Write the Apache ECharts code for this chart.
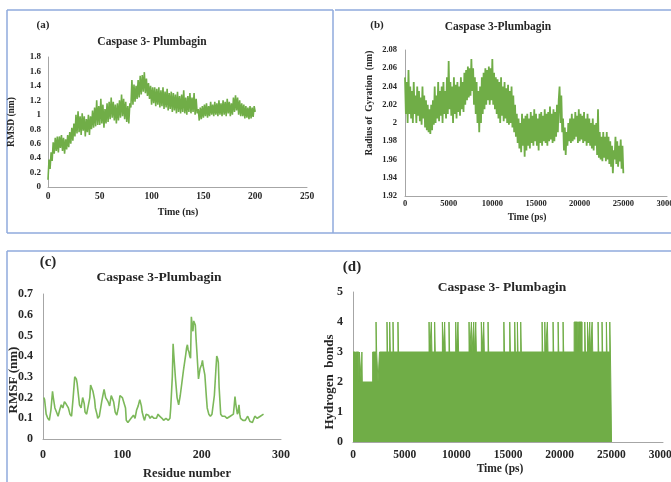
<!DOCTYPE html>
<html><head><meta charset="utf-8">
<script src="https://cdn.jsdelivr.net/npm/echarts@6/dist/echarts.min.js"></script>
<style>html,body{margin:0;padding:0;background:#fff}#c{width:671px;height:482px}</style>
</head><body><div id="c"></div>
<script>
// (a) RMSD, one value per ns
const rmsdStepNs = 1;
const rmsdValues = [
0.10,0.38,0.25,0.48,0.36,0.62,0.46,0.68,0.50,0.70,
0.48,0.70,0.54,0.72,0.50,0.68,0.46,0.66,0.52,0.72,
0.55,0.76,0.60,0.82,0.64,0.88,0.70,1.00,0.74,1.05,
0.76,0.98,0.72,1.02,0.78,0.98,0.70,0.94,0.76,1.00,
0.72,0.98,0.80,1.06,0.82,1.10,0.84,1.20,0.86,1.12,
0.86,1.22,0.88,1.14,0.82,1.08,0.88,1.16,0.90,1.18,
0.94,1.24,0.96,1.18,0.92,1.14,0.88,1.16,0.92,1.20,
0.96,1.28,0.98,1.22,0.94,1.18,0.90,1.12,0.88,1.16,
1.10,1.48,1.14,1.42,1.18,1.40,1.22,1.48,1.24,1.54,
1.28,1.55,1.32,1.59,1.30,1.50,1.26,1.44,1.22,1.40,
1.14,1.38,1.16,1.38,1.12,1.36,1.14,1.38,1.10,1.34,
1.12,1.38,1.08,1.32,1.10,1.36,1.06,1.30,1.08,1.32,
1.04,1.30,1.06,1.28,1.02,1.32,1.04,1.26,1.02,1.28,
1.04,1.34,1.02,1.24,1.00,1.26,1.04,1.30,1.02,1.24,
1.04,1.30,1.00,1.22,1.02,1.08,0.92,1.10,0.94,1.12,
0.96,1.14,0.98,1.16,0.96,1.12,0.98,1.18,1.00,1.14,
0.98,1.18,1.00,1.16,0.98,1.20,1.00,1.16,0.98,1.20,
1.00,1.18,0.98,1.22,1.02,1.18,0.98,1.16,1.00,1.24,
1.04,1.27,1.06,1.24,1.00,1.20,0.98,1.16,0.98,1.14,
0.95,1.12,0.96,1.10,0.94,1.12,0.95,1.10,0.97,1.12,
1.04];

// (b) Radius of gyration, one value per 100 ps
const rgStepPs = 100;
const rgValues = [
2.05,2.01,2.045,2.0,2.058,2.01,2.04,2.005,2.035,2.0,
2.045,2.01,2.03,2.0,2.04,2.008,2.035,2.002,2.028,1.998,
2.04,2.005,2.03,1.995,2.025,1.992,2.02,1.99,2.015,1.988,
2.02,1.992,2.025,1.998,2.04,2.0,2.03,2.005,2.045,2.002,
2.035,2.008,2.04,2.0,2.045,2.01,2.035,2.005,2.05,2.01,
2.068,2.015,2.045,2.008,2.04,2.0,2.05,2.01,2.042,2.005,
2.045,2.012,2.04,2.008,2.05,2.015,2.045,2.012,2.055,2.02,
2.058,2.025,2.062,2.028,2.06,2.03,2.07,2.035,2.06,2.02,
2.05,2.01,2.045,2.0,2.035,1.99,2.04,2.0,2.05,2.01,
2.055,2.015,2.06,2.02,2.058,2.025,2.062,2.02,2.06,2.025,
2.07,2.02,2.055,2.015,2.05,2.01,2.048,2.005,2.045,2.0,
2.05,2.008,2.04,2.002,2.045,2.005,2.038,2.0,2.042,1.998,
2.035,2.0,2.04,1.995,2.03,1.99,2.02,1.985,2.01,1.978,
2.005,1.972,2.0,1.968,2.01,1.975,2.005,1.963,2.008,1.97,
2.01,1.975,2.005,1.972,2.012,1.978,2.008,1.975,2.015,1.98,
2.01,1.975,2.005,1.97,2.01,1.978,2.012,1.975,2.008,1.98,
2.015,1.978,2.01,1.975,2.012,1.98,2.018,1.982,2.01,1.978,
2.015,1.98,2.012,1.985,2.02,1.99,2.025,2.04,2.0,2.03,
1.99,2.005,1.97,1.995,1.965,1.99,1.975,2.0,1.98,2.005,
1.978,2.01,1.98,2.005,1.982,2.012,1.985,2.008,1.978,2.015,
1.98,2.01,1.982,2.008,1.978,2.012,1.98,2.005,1.975,2.01,
1.978,2.005,1.975,2.0,1.972,2.005,1.97,1.998,1.975,2.0,
1.965,2.015,1.962,1.99,1.96,1.985,1.958,1.99,1.962,1.985,
1.958,1.99,1.96,1.985,1.955,1.98,1.952,1.975,1.945,1.97,
1.96,1.985,1.955,1.98,1.952,1.975,1.958,1.982,1.95,1.975,
1.945];

// (c) RMSF per residue
const rmsfResidues = [1,2,4,6,8,10,12,13,15,17,19,21,23,25,27,29,32,34,36,38,40,42,43,45,46,48,50,52,53,55,57,59,60,62,63,65,66,68,69,71,74,76,77,79,82,84,86,88,89,91,93,95,97,100,102,104,105,107,109,111,114,116,118,120,122,124,125,127,128,130,133,135,137,140,143,145,147,150,152,155,158,160,161,163,164,165,167,169,171,173,175,177,180,181,182,183,184,185,186,187,188,189,190,192,193,194,196,198,200,201,202,204,206,207,209,211,213,216,218,219,220,221,222,224,226,229,232,236,238,240,241,242,243,245,246,247,248,249,252,255,258,261,264,267,270,272,274,276,278];
const rmsfValues = [0.20,0.19,0.12,0.10,0.09,0.14,0.23,0.20,0.15,0.13,0.11,0.14,0.165,0.15,0.18,0.17,0.15,0.12,0.11,0.20,0.30,0.29,0.27,0.20,0.165,0.15,0.20,0.17,0.13,0.12,0.115,0.20,0.26,0.24,0.23,0.19,0.15,0.12,0.10,0.11,0.18,0.22,0.24,0.20,0.18,0.16,0.21,0.19,0.18,0.13,0.115,0.15,0.21,0.20,0.205,0.15,0.09,0.08,0.075,0.10,0.115,0.10,0.14,0.16,0.19,0.16,0.13,0.10,0.09,0.12,0.115,0.10,0.11,0.10,0.10,0.12,0.11,0.10,0.09,0.10,0.09,0.10,0.15,0.30,0.46,0.40,0.29,0.20,0.165,0.21,0.27,0.33,0.41,0.44,0.455,0.43,0.42,0.40,0.39,0.59,0.55,0.52,0.57,0.55,0.48,0.42,0.29,0.34,0.36,0.38,0.35,0.31,0.20,0.15,0.12,0.11,0.12,0.21,0.34,0.40,0.39,0.37,0.25,0.12,0.11,0.11,0.10,0.11,0.11,0.12,0.16,0.205,0.17,0.12,0.13,0.165,0.12,0.10,0.09,0.09,0.11,0.084,0.08,0.11,0.10,0.10,0.11,0.115,0.12];

// (d) Hydrogen bonds: count holds from each time until the next
const hbTimes = [0,250,300,560,620,800,860,900,1900,2230,2290,2420,2560,
3290,3350,3550,3610,3870,3930,4350,4410,
7360,7420,7580,7640,7900,7960,
8650,8710,8870,8930,9290,9350,
9940,10000,10160,10220,
11230,11290,11460,11520,11680,11740,11880,11940,
12420,12480,12650,12710,
13070,13130,
14600,14660,15170,15230,15650,15710,15910,15970,16230,16290,
18300,18360,18560,18620,18810,18870,
19360,19420,19850,19910,20330,20390,
21400,21750,21800,22170,
22430,22490,22690,22750,22910,22970,23140,23200,
23720,23780,24100,24160,24520,24580,24850,24910,
24950,25020];
const hbCounts = [3,2,3,2,3,2,3,2,3,4,3,2,3,
4,3,4,3,4,3,4,3,
4,3,4,3,4,3,
4,3,4,3,4,3,
4,3,4,3,
4,3,4,3,4,3,4,3,
4,3,4,3,
4,3,
4,3,4,3,4,3,4,3,4,3,
4,3,4,3,4,3,
4,3,4,3,4,3,
4,3,4,3,
4,3,4,3,4,3,4,3,
4,3,4,3,4,3,4,3,
2,0];

const GREEN = '#70AD47';
const AXIS = '#a6a6a6';
const TXT = '#262626';
const SERIF = '"Liberation Serif","Times New Roman",serif';

const chart = echarts.init(document.getElementById('c'), null, {renderer: 'canvas'});

function ax(gi, min, max, interval, fs, margin) {
  return {gridIndex: gi, type: 'value', min, max, interval,
    axisLine: {show: true, onZero: false, lineStyle: {color: AXIS, width: 1}},
    axisTick: {show: false}, splitLine: {show: false},
    axisLabel: {color: TXT, fontFamily: SERIF, fontWeight: 'bold', fontSize: fs, margin,
      showMinLabel: true, showMaxLabel: true, hideOverlap: false,
      formatter: v => String(+v.toFixed(4))}};
}
function txt(x, y, s, fs, rot) {
  return {type: 'text', x, y, rotation: rot || 0, z: 10,
    style: {text: s, font: 'bold ' + fs + 'px ' + SERIF, fill: TXT,
      align: 'center', verticalAlign: 'middle', textAlign: 'center', textVerticalAlign: 'middle'}};
}
function seg(x1, y1, x2, y2) {
  return {type: 'line', z: 0, shape: {x1, y1, x2, y2}, style: {stroke: '#8faadc', lineWidth: 1.5}};
}

const option = {
  backgroundColor: '#fff',
  animation: false,
  grid: [
    {left: 48, top: 57, width: 259, height: 130, outerBoundsMode: 'none', containLabel: false},
    {left: 405, top: 50, width: 262, height: 146, outerBoundsMode: 'none', containLabel: false},
    {left: 43, top: 294, width: 238, height: 145, outerBoundsMode: 'none', containLabel: false},
    {left: 353, top: 292, width: 310, height: 150, outerBoundsMode: 'none', containLabel: false}
  ],
  xAxis: [
    ax(0, 0, 250, 50, 9.5, 5),
    ax(1, 0, 30000, 5000, 8.5, 3),
    ax(2, 0, 300, 100, 12, 10),
    ax(3, 0, 30000, 5000, 11.5, 7)
  ],
  yAxis: [
    ax(0, 0, 1.8, 0.2, 9, 7),
    ax(1, 1.92, 2.08, 0.02, 8.5, 8),
    ax(2, 0, 0.7, 0.1, 12, 10),
    ax(3, 0, 5, 1, 12, 10)
  ],
  series: [
    {type: 'line', xAxisIndex: 0, yAxisIndex: 0, showSymbol: false, symbol: 'none',
      lineStyle: {color: GREEN, width: 1.6}, data: rmsdValues.map((v, i) => [i * rmsdStepNs, v])},
    {type: 'line', xAxisIndex: 1, yAxisIndex: 1, showSymbol: false, symbol: 'none',
      lineStyle: {color: GREEN, width: 1.8}, data: rgValues.map((v, i) => [i * rgStepPs, v])},
    {type: 'line', xAxisIndex: 2, yAxisIndex: 2, showSymbol: false, symbol: 'none',
      lineStyle: {color: '#7cb85a', width: 1.6}, data: rmsfResidues.map((r, i) => [r, rmsfValues[i]])},
    {type: 'line', xAxisIndex: 3, yAxisIndex: 3, showSymbol: false, symbol: 'none', step: 'end',
      lineStyle: {color: GREEN, width: 1}, areaStyle: {color: GREEN, opacity: 1},
      data: hbTimes.map((t, i) => [t, hbCounts[i]])}
  ],
  graphic: [
    seg(7, 10, 333, 10), seg(7, 10, 7, 233), seg(333, 10, 333, 233), seg(7, 233, 671, 233),
    seg(335, 10, 671, 10),
    seg(7, 251, 671, 251), seg(7, 251, 7, 482),
    txt(43, 25, '(a)', 11), txt(152, 42, 'Caspase 3- Plumbagin', 11.5),
    txt(12, 122, 'RMSD (nm)', 9.5, Math.PI / 2), txt(178, 212, 'Time (ns)', 10),
    txt(377, 25, '(b)', 11), txt(498, 27, 'Caspase 3-Plumbagin', 11.5),
    txt(370, 103, 'Radius of  Gyration  (nm)', 9.5, Math.PI / 2), txt(527, 218, 'Time (ps)', 9.5),
    txt(48, 262, '(c)', 15), txt(159, 278, 'Caspase 3-Plumbagin', 13.5),
    txt(14, 380, 'RMSF (nm)', 13, Math.PI / 2), txt(187, 474, 'Residue number', 12.5),
    txt(352, 267, '(d)', 15), txt(502, 288, 'Caspase 3- Plumbagin', 13.5),
    txt(330, 382, 'Hydrogen  bonds', 13, Math.PI / 2), txt(500, 469, 'Time (ps)', 11.5)
  ]
};
chart.setOption(option);
</script>
</body></html>
